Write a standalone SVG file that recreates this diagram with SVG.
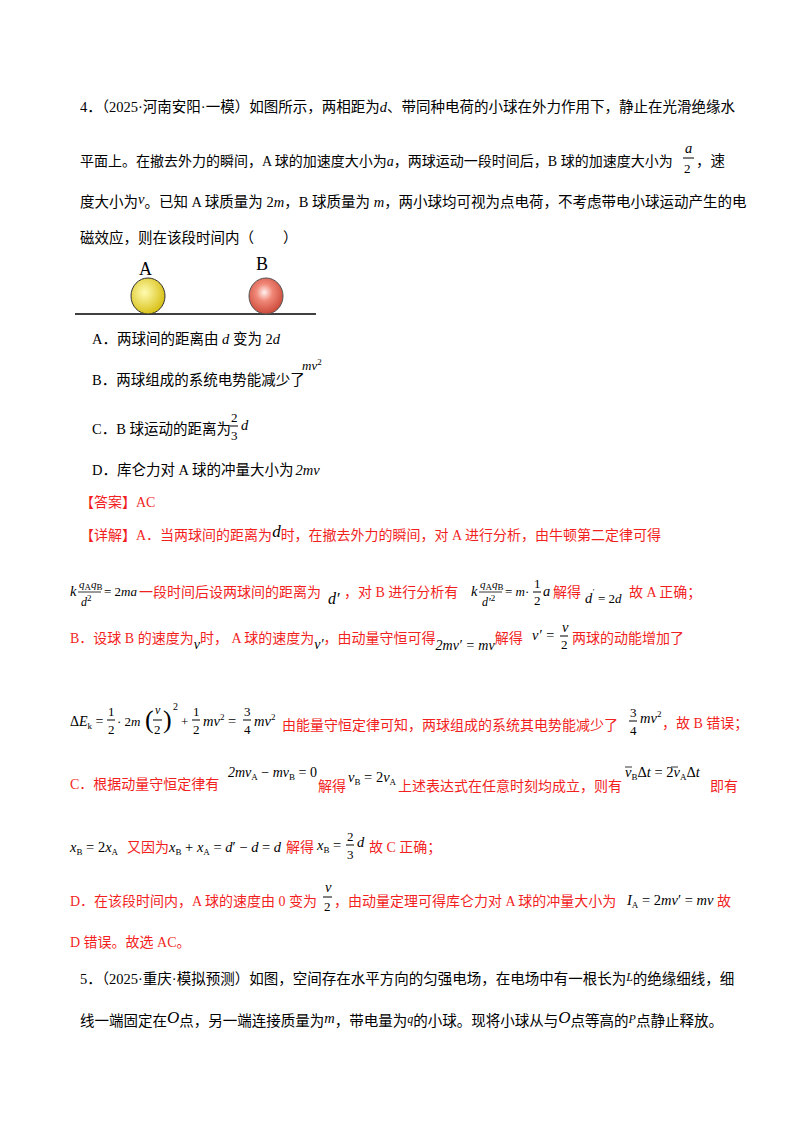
<svg xmlns="http://www.w3.org/2000/svg" width="800" height="1132" viewBox="0 0 800 1132">
<defs>
<radialGradient id="gA" cx="0.4" cy="0.4" r="0.6"><stop offset="0" stop-color="#fffbb0"/><stop offset="1" stop-color="#d9c21a"/></radialGradient>
<radialGradient id="gB" cx="0.45" cy="0.4" r="0.6"><stop offset="0" stop-color="#fff0ee"/><stop offset="0.4" stop-color="#f08878"/><stop offset="1" stop-color="#cc4a3a"/></radialGradient>
</defs>
<style>
text{font-family:"Liberation Serif","Noto Sans CJK SC",serif;font-size:14.5px;fill:#000}
.r{fill:#f21f1f;font-size:14px}
.m{font-family:"Liberation Serif",serif;font-style:italic}
.s{font-size:9px;font-style:normal}
.f{font-family:"Liberation Serif",serif;font-size:13px}
</style>
<rect width="800" height="1132" fill="#fff"/>
<g id="question">
<text x="80" y="112">4．（2025·河南安阳·一模）如图所示，两相距为<tspan class="m">d</tspan>、带同种电荷的小球在外力作用下，静止在光滑绝缘水</text>
<text x="80" y="166" style="font-size:14px">平面上。在撤去外力的瞬间，A 球的加速度大小为<tspan class="m">a</tspan>，两球运动一段时间后，B 球的加速度大小为</text>
<text x="685" y="153" class="m">a</text><line x1="683" y1="158" x2="694" y2="158" stroke="#000"/><text x="684" y="173" class="f">2</text>
<text x="696" y="166">，速</text>
<text x="80" y="207">度大小为<tspan class="m" dy="-3">v</tspan><tspan dy="3">。已知 A 球质量为 2</tspan><tspan class="m">m</tspan>，B 球质量为 <tspan class="m">m</tspan>，两小球均可视为点电荷，不考虑带电小球运动产生的电</text>
<text x="80" y="243">磁效应，则在该段时间内（　　）</text>
</g>
<g id="figure">
<line x1="75" y1="314" x2="316" y2="314" stroke="#000" stroke-width="1.5"/>
<ellipse cx="148" cy="296" rx="17" ry="18" fill="url(#gA)" stroke="#333" stroke-width="1"/>
<ellipse cx="266" cy="296" rx="17" ry="18" fill="url(#gB)" stroke="#555" stroke-width="1"/>
<text x="139" y="275" style="font-size:18px">A</text>
<text x="256" y="270" style="font-size:18px">B</text>
</g>
<g id="options">
<text x="92" y="344">A．两球间的距离由 <tspan class="m">d</tspan> 变为 2<tspan class="m">d</tspan></text>
<text x="92" y="385">B．两球组成的系统电势能减少了</text><text x="302" y="370" class="m" style="font-size:13px">mv<tspan class="s" dy="-5">2</tspan></text>
<text x="92" y="434">C．B 球运动的距离为</text><text x="231" y="422" class="f">2</text><line x1="230" y1="426" x2="238" y2="426" stroke="#000"/><text x="231" y="440" class="f">3</text><text x="241" y="430" class="m">d</text>
<text x="92" y="475">D．库仑力对 A 球的冲量大小为<tspan class="m" dx="2">2mv</tspan></text>
</g>
<g id="answer">
<text x="80" y="507" class="r">【答案】AC</text>
<text x="80" y="540" class="r">【详解】A．当两球间的距离为<tspan class="m" style="fill:#000;font-size:17px" dy="-3">d</tspan><tspan dy="3">时，在撤去外力的瞬间，对 A 进行分析，由牛顿第二定律可得</tspan></text>
<text x="70" y="596" class="m">k</text>
<text x="79" y="588" class="m" style="font-size:11px">q<tspan class="s" dy="2">A</tspan><tspan dy="-2">q</tspan><tspan class="s" dy="2">B</tspan></text>
<line x1="78" y1="592" x2="101" y2="592" stroke="#000" stroke-width="0.8"/>
<text x="81" y="606" class="m" style="font-size:12px">d<tspan class="s" dy="-5">2</tspan></text>
<text x="104" y="596" class="f">= 2<tspan class="m">ma</tspan></text>
<text x="139" y="597" class="r">一段时间后设两球间的距离为</text><text x="328" y="604" class="m" style="font-size:16px">d′</text>
<text x="344" y="597" class="r">，对 B 进行分析有</text>
<text x="471" y="596" class="m">k</text>
<text x="480" y="588" class="m" style="font-size:11px">q<tspan class="s" dy="2">A</tspan><tspan dy="-2">q</tspan><tspan class="s" dy="2">B</tspan></text>
<line x1="479" y1="592" x2="502" y2="592" stroke="#000" stroke-width="0.8"/>
<text x="482" y="606" class="m" style="font-size:12px">d′<tspan class="s" dy="-5">2</tspan></text>
<text x="505" y="596" class="f">= <tspan class="m">m</tspan>·</text>
<text x="534" y="588" class="f">1</text><line x1="533" y1="592" x2="541" y2="592" stroke="#000"/><text x="534" y="605" class="f">2</text>
<text x="543" y="596" class="m">a</text>
<text x="553" y="597" class="r">解得</text>
<text x="585" y="603" class="m">d<tspan style="font-size:8px" dy="-8">′</tspan></text><text x="598" y="603" class="f">= 2<tspan class="m">d</tspan></text>
<text x="629" y="597" class="r">故 A 正确；</text>

<text x="70" y="643" class="r">B．设球 B 的速度为<tspan class="m" style="fill:#000" dy="6">v</tspan><tspan dy="-6">时， A 球的速度为</tspan><tspan class="m" style="fill:#000" dy="6">v′</tspan><tspan dy="-6">，由动量守恒可得</tspan><tspan class="m" style="fill:#000" dy="7">2mv′ = mv</tspan><tspan dy="-7">解得</tspan></text>
<text x="532" y="640" class="m">v′ =</text>
<text x="562" y="632" class="m">v</text><line x1="560" y1="636" x2="568" y2="636" stroke="#000"/><text x="561" y="649" class="f">2</text>
<text x="572" y="643" class="r">两球的动能增加了</text>

<text x="70" y="726" class="f" style="font-size:14px">Δ<tspan class="m">E</tspan><tspan class="s" dy="3">k</tspan><tspan dy="-3"> =</tspan></text>
<text x="108" y="716" class="f">1</text><line x1="107" y1="720" x2="115" y2="720" stroke="#000"/><text x="108" y="734" class="f">2</text>
<text x="117" y="726" class="f">· 2<tspan class="m">m</tspan></text>
<text x="145" y="728" class="f" style="font-size:26px;font-weight:100">(</text>
<text x="155" y="714" class="m" style="font-size:12px">v</text><line x1="153" y1="720" x2="162" y2="720" stroke="#000"/><text x="154" y="734" class="f">2</text>
<text x="163" y="728" class="f" style="font-size:26px;font-weight:100">)</text>
<text x="173" y="710" class="f" style="font-size:10px">2</text>
<text x="181" y="726" class="f">+</text>
<text x="193" y="716" class="f">1</text><line x1="192" y1="720" x2="200" y2="720" stroke="#000"/><text x="193" y="734" class="f">2</text>
<text x="203" y="726" class="m">mv<tspan class="s" dy="-6">2</tspan><tspan dy="6" style="font-style:normal"> =</tspan></text>
<text x="244" y="716" class="f">3</text><line x1="243" y1="720" x2="251" y2="720" stroke="#000"/><text x="244" y="734" class="f">4</text>
<text x="254" y="726" class="m">mv<tspan class="s" dy="-6">2</tspan></text>
<text x="282" y="730" class="r">由能量守恒定律可知，两球组成的系统其电势能减少了</text>
<text x="630" y="717" class="f">3</text><line x1="629" y1="721" x2="637" y2="721" stroke="#000"/><text x="630" y="735" class="f">4</text>
<text x="640" y="723" class="m">mv<tspan class="s" dy="-6">2</tspan></text>
<text x="662" y="728" class="r">，故 B 错误；</text>

<text x="70" y="789" class="r">C．根据动量守恒定律有</text>
<text x="228" y="777" class="m" style="font-size:14px">2mv<tspan class="s" dy="3">A</tspan><tspan dy="-3" style="font-style:normal"> − </tspan>mv<tspan class="s" dy="3">B</tspan><tspan dy="-3" style="font-style:normal"> = 0</tspan></text>
<text x="318" y="791" class="r">解得</text>
<text x="348" y="782" class="m">v<tspan class="s" dy="3">B</tspan><tspan dy="-3" style="font-style:normal"> = 2</tspan>v<tspan class="s" dy="3">A</tspan></text>
<text x="398" y="791" class="r">上述表达式在任意时刻均成立，则有</text>
<text x="625" y="777" class="m">v<tspan class="s" dy="3">B</tspan><tspan dy="-3" style="font-style:normal">Δ</tspan>t<tspan style="font-style:normal"> = 2</tspan>v<tspan class="s" dy="3">A</tspan><tspan dy="-3" style="font-style:normal">Δ</tspan>t</text>
<line x1="625" y1="767" x2="632" y2="767" stroke="#000" stroke-width="0.8"/>
<line x1="671" y1="767" x2="678" y2="767" stroke="#000" stroke-width="0.8"/>
<text x="710" y="791" class="r">即有</text>

<text x="70" y="852" class="m">x<tspan class="s" dy="3">B</tspan><tspan dy="-3" style="font-style:normal"> = 2</tspan>x<tspan class="s" dy="3">A</tspan></text>
<text x="127" y="852" class="r">又因为</text>
<text x="169" y="852" class="m">x<tspan class="s" dy="3">B</tspan><tspan dy="-3" style="font-style:normal"> + </tspan>x<tspan class="s" dy="3">A</tspan><tspan dy="-3" style="font-style:normal"> = </tspan>d<tspan style="font-style:normal">′ − </tspan>d<tspan style="font-style:normal"> = </tspan>d</text>
<text x="286" y="852" class="r">解得</text>
<text x="317" y="850" class="m">x<tspan class="s" dy="3">B</tspan><tspan dy="-3" style="font-style:normal"> =</tspan></text>
<text x="347" y="841" class="f">2</text><line x1="346" y1="845" x2="354" y2="845" stroke="#000"/><text x="347" y="859" class="f">3</text>
<text x="357" y="847" class="m">d</text>
<text x="369" y="852" class="r">故 C 正确；</text>

<text x="70" y="906" class="r">D．在该段时间内，A 球的速度由 0 变为</text>
<text x="325" y="892" class="m">v</text><line x1="323" y1="897" x2="332" y2="897" stroke="#000"/><text x="324" y="911" class="f">2</text>
<text x="334" y="906" class="r">，由动量定理可得库仑力对 A 球的冲量大小为</text>
<text x="627" y="905" class="m">I<tspan class="s" dy="3">A</tspan><tspan dy="-3" style="font-style:normal"> = 2</tspan>mv<tspan style="font-style:normal">′ = </tspan>mv</text>
<text x="717" y="906" class="r">故</text>
<text x="70" y="947" class="r">D 错误。故选 AC。</text>
</g>
<g id="question5">
<text x="80" y="984">5．（2025·重庆·模拟预测）如图，空间存在水平方向的匀强电场，在电场中有一根长为<tspan class="m" style="font-size:12px" dy="-3">L</tspan><tspan dy="3">的绝缘细线，细</tspan></text>
<text x="80" y="1026">线一端固定在<tspan class="m" style="font-size:17px" dy="-3">O</tspan><tspan dy="3">点，另一端连接质量为</tspan><tspan class="m" dy="-3">m</tspan><tspan dy="3">，带电量为</tspan><tspan class="m" style="font-size:12px" dy="-3">q</tspan><tspan dy="3">的小球。现将小球从与</tspan><tspan class="m" style="font-size:17px" dy="-3">O</tspan><tspan dy="3">点等高的</tspan><tspan class="m" style="font-size:12px" dy="-3">P</tspan><tspan dy="3">点静止释放。</tspan></text>
</g>
</svg>
